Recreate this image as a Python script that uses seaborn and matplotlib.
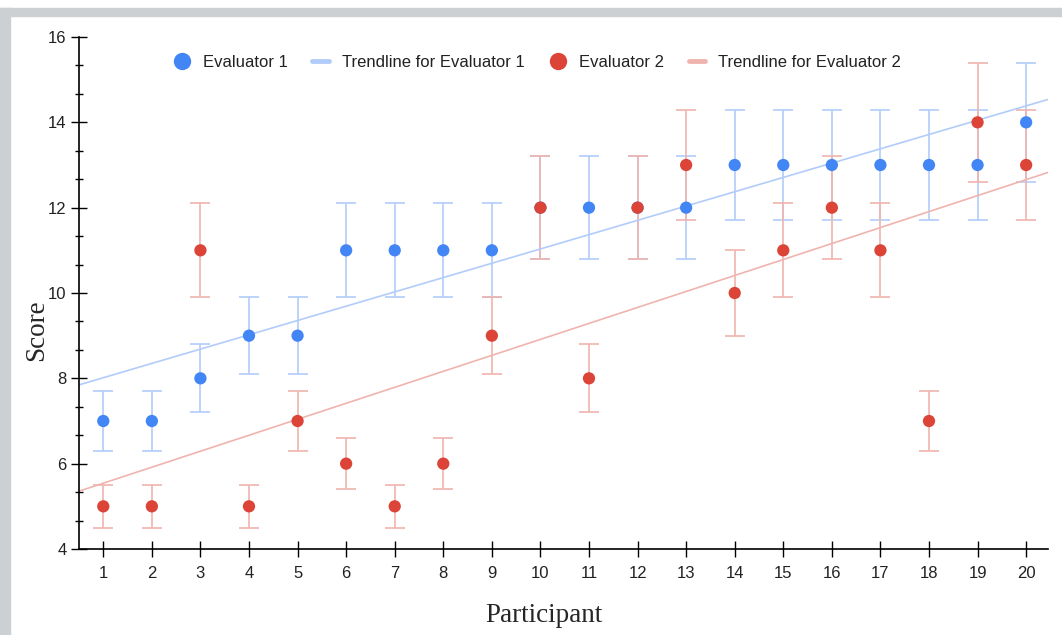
import numpy as np
import pandas as pd
import matplotlib
matplotlib.use("Agg")
import matplotlib.pyplot as plt
import seaborn as sns
from matplotlib.lines import Line2D
from matplotlib.patches import Rectangle
from matplotlib.ticker import MultipleLocator

participants = list(range(1, 21))
evaluator1 = [7, 7, 8, 9, 9, 11, 11, 11, 11, 12, 12, 12, 12, 13, 13, 13, 13, 13, 13, 14]
evaluator2 = [5, 5, 11, 5, 7, 6, 5, 6, 9, 12, 8, 12, 13, 10, 11, 12, 11, 7, 14, 13]
err1 = [0.7, 0.7, 0.8, 0.9, 0.9, 1.1, 1.1, 1.1, 1.1, 1.2, 1.2, 1.2, 1.2, 1.3, 1.3, 1.3, 1.3, 1.3, 1.3, 1.4]
err2 = [0.5, 0.5, 1.1, 0.5, 0.7, 0.6, 0.5, 0.6, 0.9, 1.2, 0.8, 1.2, 1.3, 1.0, 1.1, 1.2, 1.1, 0.7, 1.4, 1.3]

blue = "#4285F4"
red = "#DB4437"
blue_light = "#B2CCFA"
red_light = "#F0B4AE"

df = pd.DataFrame({
    "Participant": participants * 2,
    "Score": evaluator1 + evaluator2,
    "err": err1 + err2,
    "Evaluator": ["Evaluator 1"] * 20 + ["Evaluator 2"] * 20,
})

sns.set_style("white")
plt.rcParams["font.family"] = ["Liberation Sans", "DejaVu Sans"]

fig = plt.figure(figsize=(10.62, 6.35), dpi=100)
ax = fig.add_axes([79 / 1062, 1 - 549 / 635, 969 / 1062, 512 / 635])

# grey frame of the screenshot
fig.patches.append(Rectangle((0, 1 - 16 / 635), 1, 8 / 635, transform=fig.transFigure,
                             color="#CDD0D3", zorder=0))
fig.patches.append(Rectangle((0, 0), 10 / 1062, 1 - 8 / 635, transform=fig.transFigure,
                             color="#CDD0D3", zorder=0))

ax.set_xlim(0.5, 20.45)
ax.set_ylim(4, 16)

for name, col_light in [("Evaluator 1", blue_light), ("Evaluator 2", red_light)]:
    d = df[df["Evaluator"] == name]
    ax.errorbar(d["Participant"], d["Score"], yerr=d["err"], fmt="none",
                ecolor=col_light, elinewidth=1.2, capsize=7.5, capthick=1.2, zorder=1)

for name, col_light in [("Evaluator 1", blue_light), ("Evaluator 2", red_light)]:
    d = df[df["Evaluator"] == name]
    sns.regplot(data=d, x="Participant", y="Score", scatter=False, ci=None, truncate=False,
                ax=ax, line_kws={"color": col_light, "lw": 1.2, "zorder": 2})

sns.scatterplot(data=df, x="Participant", y="Score", hue="Evaluator",
                palette={"Evaluator 1": blue, "Evaluator 2": red},
                s=78, edgecolor="none", legend=False, ax=ax, zorder=3)

ax.set_xticks(participants)
ax.yaxis.set_major_locator(MultipleLocator(2))
ax.yaxis.set_minor_locator(MultipleLocator(2 / 3))
ax.tick_params(axis="both", which="major", direction="inout", length=12, width=1,
               color="black", labelsize=12, labelcolor="#222222", left=True, bottom=True)
ax.tick_params(axis="x", which="major", length=11, pad=7)
ax.tick_params(axis="y", which="major", pad=3)
ax.tick_params(axis="y", which="minor", direction="inout", length=6, width=1,
               color="black", left=True)

for s in ["top", "right"]:
    ax.spines[s].set_visible(False)
for s in ["left", "bottom"]:
    ax.spines[s].set_color("black")
    ax.spines[s].set_linewidth(1.2)

ax.set_xlabel("Participant", family=["Liberation Serif", "DejaVu Serif"], fontsize=19.5,
              va="center")
ax.set_ylabel("Score", family=["Liberation Serif", "DejaVu Serif"], fontsize=19.5,
              va="center")
ax.xaxis.set_label_coords(0.48, -0.129)
ax.yaxis.set_label_coords(-0.044, 0.428)

handles = [
    Line2D([], [], marker="o", ls="none", color=blue, markersize=12.5, markeredgewidth=0),
    Line2D([], [], color=blue_light, lw=3.5),
    Line2D([], [], marker="o", ls="none", color=red, markersize=12.5, markeredgewidth=0),
    Line2D([], [], color=red_light, lw=3.5),
]
labels = ["Evaluator 1", "Trendline for Evaluator 1", "Evaluator 2", "Trendline for Evaluator 2"]
leg = ax.legend(handles, labels, ncol=4, frameon=False, loc="center left",
                bbox_to_anchor=(0.082, 0.95), fontsize=12, handlelength=1.0,
                handletextpad=0.75, columnspacing=1.5)
for t in leg.get_texts():
    t.set_color("#222222")

fig.savefig("out.png", dpi=100)
